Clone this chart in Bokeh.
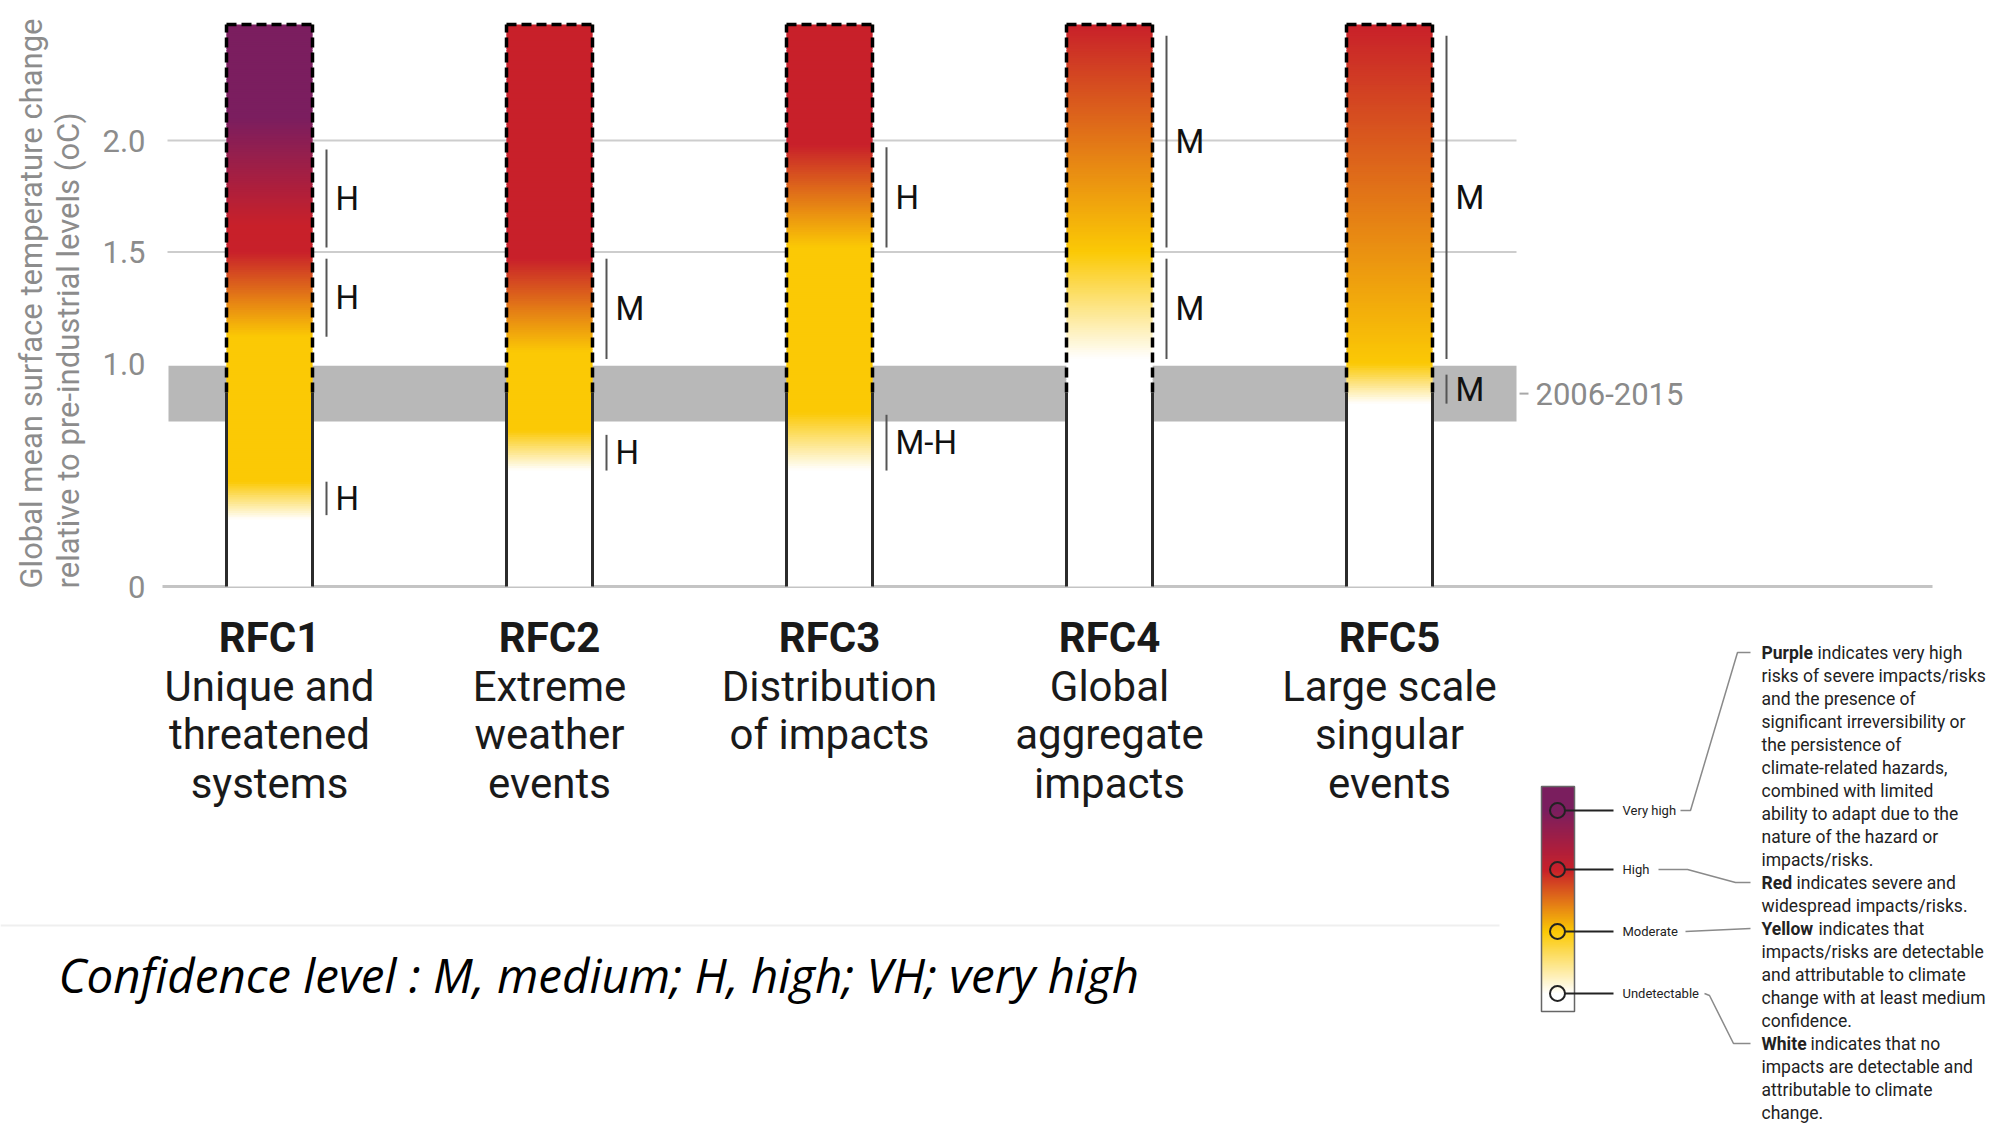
import numpy as np
from bokeh.plotting import figure
from bokeh.models import Range1d, ColumnDataSource
from bokeh.core.properties import value
from bokeh.embed import file_html
from bokeh.resources import INLINE

# ------------------------------------------------------------------ data
categories = ["RFC1", "RFC2", "RFC3", "RFC4", "RFC5"]
category_lines = [
    ["Unique and", "threatened", "systems"],
    ["Extreme", "weather", "events"],
    ["Distribution", "of impacts"],
    ["Global", "aggregate", "impacts"],
    ["Large scale", "singular", "events"],
]
# risk transitions: temperature (°C) and risk level (0 white, 1 yellow, 2 red, 3 purple)
rfc1_temp = [0.0, 0.30, 0.47, 1.12, 1.50, 1.62, 2.10, 2.52]
rfc1_risk = [0, 0, 1, 1, 2, 2, 3, 3]
rfc2_temp = [0.0, 0.52, 0.70, 1.05, 1.47, 2.52]
rfc2_risk = [0, 0, 1, 1, 2, 2]
rfc3_temp = [0.0, 0.52, 0.78, 1.52, 1.98, 2.52]
rfc3_risk = [0, 0, 1, 1, 2, 2]
rfc4_temp = [0.0, 1.02, 1.50, 2.52]
rfc4_risk = [0, 0, 1, 2]
rfc5_temp = [0.0, 0.82, 1.00, 2.52]
rfc5_risk = [0, 0, 1, 2]

bar_top = 2.52
observed_warming = 0.87
band_2006_2015 = [0.74, 0.99]
band_label = "2006-2015"

# confidence brackets
conf_rfc = [0, 0, 0, 1, 1, 2, 2, 3, 3, 4, 4]
conf_low = [1.52, 1.12, 0.32, 1.02, 0.52, 1.52, 0.52, 1.52, 1.02, 1.02, 0.82]
conf_high = [1.96, 1.47, 0.47, 1.47, 0.68, 1.97, 0.77, 2.47, 1.47, 2.47, 0.95]
conf_label = ["H", "H", "H", "M", "H", "H", "M-H", "M", "M", "M", "M"]

y_ticks = [0, 1.0, 1.5, 2.0]
y_tick_labels = ["0", "1.0", "1.5", "2.0"]
grid_levels = [1.5, 2.0]

risk_colors = ["#ffffff", "#fbc905", "#c8202a", "#7b1e5f"]
legend_levels = ["Very high", "High", "Moderate", "Undetectable"]
legend_risk = [3, 2, 1, 0]

footnote = "Confidence level : M, medium; H, high; VH; very high"
y_title_1 = "Global mean surface temperature change"
y_title_2 = "relative to pre-industrial levels (oC)"

desc_lines = [
    ("Purple", "indicates very high"),
    ("", "risks of severe impacts/risks"),
    ("", "and the presence of"),
    ("", "significant irreversibility or"),
    ("", "the persistence of"),
    ("", "climate-related hazards,"),
    ("", "combined with limited"),
    ("", "ability to adapt due to the"),
    ("", "nature of the hazard or"),
    ("", "impacts/risks."),
    ("Red", "indicates severe and"),
    ("", "widespread impacts/risks."),
    ("Yellow", "indicates that"),
    ("", "impacts/risks are detectable"),
    ("", "and attributable to climate"),
    ("", "change with at least medium"),
    ("", "confidence."),
    ("White", "indicates that no"),
    ("", "impacts are detectable and"),
    ("", "attributable to climate"),
    ("", "change."),
]

# ------------------------------------------------------------------ layout (page px)
W, H = 2009, 1129
BAR0_PX, BAR_STEP_PX = 269, 280
ZERO_PX, PX_PER_DEG = 586, 223
BAR_HALF = 43 / BAR_STEP_PX


def xd(px):
    return 1 + (px - BAR0_PX) / BAR_STEP_PX


def yd(px):
    return (ZERO_PX - px) / PX_PER_DEG


def hex2rgb(h):
    return tuple(int(h[i:i + 2], 16) for i in (1, 3, 5))


risk_rgb = [hex2rgb(c) for c in risk_colors]


def level_color(L):
    i = min(int(np.floor(L)), len(risk_rgb) - 2)
    t = L - i
    c = [int(round(a + (b - a) * t)) for a, b in zip(risk_rgb[i], risk_rgb[i + 1])]
    return "#%02x%02x%02x" % tuple(c)


p = figure(width=W, height=H,
           x_range=Range1d(xd(0), xd(W)),
           y_range=Range1d(yd(H), yd(0)),
           x_axis_location=None, y_axis_location=None,
           toolbar_location=None, output_backend="svg",
           min_border_left=0, min_border_right=0,
           min_border_top=0, min_border_bottom=0)
p.outline_line_color = None
p.background_fill_color = "white"
p.border_fill_color = "white"
p.grid.visible = False

GRAY_TXT = "#8c8c8c"

# y tick labels (drawn through the y scale)
p.text(x=[xd(145)] * len(y_ticks), y=y_ticks, text=y_tick_labels,
       text_font=value("Roboto"), text_font_size="31px", text_color=GRAY_TXT,
       text_align="right", text_baseline="middle")

# y-axis title (two rotated lines)
p.text(x=[xd(31), xd(68)], y=[yd(588)] * 2, text=[y_title_1, y_title_2],
       angle=np.pi / 2, text_font=value("Roboto"), text_font_size="31px",
       text_color=GRAY_TXT, text_align="left", text_baseline="middle")

# separator
p.segment(x0=[xd(0)], x1=[xd(1499)], y0=[yd(925)], y1=[yd(925)],
          line_color="#efefef", line_width=2)

# 2006-2015 band
p.quad(left=[xd(168)], right=[xd(1516)], bottom=[band_2006_2015[0]],
       top=[band_2006_2015[1]], fill_color="#b8b8b8", line_color=None)
band_mid = sum(band_2006_2015) / 2
p.segment(x0=[xd(1519)], x1=[xd(1528)], y0=[band_mid], y1=[band_mid],
          line_color="#a8a8a8", line_width=2)
p.text(x=[xd(1535)], y=[band_mid], text=[band_label], text_font=value("Roboto"),
       text_font_size="31px", text_color="#8a8a8a", text_align="left",
       text_baseline="middle")

# grid lines
p.segment(x0=[xd(167)] * len(grid_levels), x1=[xd(1516)] * len(grid_levels),
          y0=grid_levels, y1=grid_levels, line_color="#cdcdcd", line_width=2)
# zero line
p.segment(x0=[xd(162)], x1=[xd(1932)], y0=[0], y1=[0],
          line_color="#c4c4c4", line_width=3)

# bars as gradient slices
stops = [(rfc1_temp, rfc1_risk), (rfc2_temp, rfc2_risk), (rfc3_temp, rfc3_risk),
         (rfc4_temp, rfc4_risk), (rfc5_temp, rfc5_risk)]
bar_x = np.arange(1, len(categories) + 1)
dy = 0.01
edges = np.arange(0, bar_top + 1e-9, dy)
mids = (edges[:-1] + edges[1:]) / 2
L_, R_, B_, T_, C_ = [], [], [], [], []
for i, (tt, rr) in enumerate(stops):
    lev = np.interp(mids, tt, rr)
    for k in range(len(mids)):
        L_.append(bar_x[i] - BAR_HALF)
        R_.append(bar_x[i] + BAR_HALF)
        B_.append(edges[k])
        T_.append(min(edges[k + 1] + dy * 0.6, bar_top))
        C_.append(level_color(lev[k]))
p.quad(left="l", right="r", bottom="b", top="t", fill_color="c", line_color=None,
       source=ColumnDataSource(dict(l=L_, r=R_, b=B_, t=T_, c=C_)))

# outlines: dashed above observed warming, solid below
xl = bar_x - BAR_HALF
xr = bar_x + BAR_HALF
n = len(bar_x)
p.segment(x0=list(xl) + list(xr), x1=list(xl) + list(xr),
          y0=[observed_warming] * (2 * n), y1=[bar_top] * (2 * n),
          line_color="black", line_width=3.5, line_dash="10 5")
p.segment(x0=list(xl), x1=list(xr), y0=[bar_top] * n, y1=[bar_top] * n,
          line_color="black", line_width=3.5, line_dash="10 5")
p.segment(x0=list(xl) + list(xr), x1=list(xl) + list(xr),
          y0=[0] * (2 * n), y1=[observed_warming] * (2 * n),
          line_color="#2b2b2b", line_width=3)

# confidence brackets
bx = np.array([bar_x[r] + BAR_HALF + 14 / BAR_STEP_PX for r in conf_rfc])
p.segment(x0=bx, x1=bx, y0=conf_low, y1=conf_high, line_color="#555555", line_width=2)
p.text(x=bx + 9 / BAR_STEP_PX, y=[(a + b) / 2 for a, b in zip(conf_low, conf_high)],
       text=conf_label, text_font=value("Roboto"), text_font_size="33px",
       text_color="#111111", text_align="left", text_baseline="middle")

# category labels
p.text(x=bar_x, y=[yd(637)] * n, text=categories, text_font=value("Roboto"),
       text_font_style="bold", text_font_size="42px", text_color="#1a1a1a",
       text_align="center", text_baseline="middle")
lx, ly, lt = [], [], []
for i, lines in enumerate(category_lines):
    for j, s in enumerate(lines):
        lx.append(bar_x[i])
        ly.append(yd(637 + 48.5 * (j + 1)))
        lt.append(s)
p.text(x=lx, y=ly, text=lt, text_font=value("Roboto"), text_font_size="42px",
       text_color="#1a1a1a", text_align="center", text_baseline="middle")

# footnote
p.text(x=[xd(58)], y=[yd(974)], text=[footnote], text_font=value("Open Sans"),
       text_font_style="italic", text_font_size="47.5px", text_color="black",
       text_align="left", text_baseline="middle")

# ------------------------------------------------------------------ legend
circle_px = [810, 869, 931, 993]
bar_px = np.arange(786, 1011, 1.0)
lev = np.interp(bar_px, circle_px, legend_risk)
p.quad(left=[xd(1541)] * len(bar_px), right=[xd(1574)] * len(bar_px),
       bottom=[yd(v + 1.6) for v in bar_px], top=[yd(v) for v in bar_px],
       fill_color=[level_color(v) for v in lev], line_color=None)
p.quad(left=[xd(1541)], right=[xd(1574)], bottom=[yd(1011)], top=[yd(786)],
       fill_color=None, line_color="#666666", line_width=1.5)
p.segment(x0=[xd(1564)] * 4, x1=[xd(1613)] * 4,
          y0=[yd(v) for v in circle_px], y1=[yd(v) for v in circle_px],
          line_color="#222222", line_width=2)
p.scatter(x=[xd(1557)] * 4, y=[yd(v) for v in circle_px], size=15,
          fill_color=None, line_color="#222222", line_width=2)
p.text(x=[xd(1622)] * 4, y=[yd(v) for v in circle_px], text=legend_levels,
       text_font=value("Roboto"), text_font_size="13px", text_color="#222222",
       text_align="left", text_baseline="middle")

DESC_Y0, DESC_STEP = 652, 23.0
desc_y = [DESC_Y0 + DESC_STEP * i for i in range(len(desc_lines))]
conn_px = [
    [(1680, 810), (1690, 810), (1737, desc_y[0]), (1750, desc_y[0])],
    [(1658, 869), (1687, 869), (1735, desc_y[10]), (1750, desc_y[10])],
    [(1685, 931), (1750, desc_y[12])],
    [(1704, 993), (1709, 995), (1733, desc_y[17]), (1750, desc_y[17])],
]
p.multi_line(xs=[[xd(a) for a, b in c] for c in conn_px],
             ys=[[yd(b) for a, b in c] for c in conn_px],
             line_color="#8a8a8a", line_width=1.5)

rest_x = {"Purple": 1817, "Red": 1796, "Yellow": 1818, "White": 1810}
bx_, by_, bt_, rx_, ry_, rt_ = [], [], [], [], [], []
for i, (bold, rest) in enumerate(desc_lines):
    yy = yd(desc_y[i])
    if bold:
        bx_.append(xd(1761)); by_.append(yy); bt_.append(bold)
        rx_.append(xd(rest_x[bold])); ry_.append(yy); rt_.append(rest)
    else:
        rx_.append(xd(1761)); ry_.append(yy); rt_.append(rest)
p.text(x=bx_, y=by_, text=bt_, text_font=value("Roboto"), text_font_style="bold",
       text_font_size="17.5px", text_color="#222222", text_align="left",
       text_baseline="middle")
p.text(x=rx_, y=ry_, text=rt_, text_font=value("Roboto"), text_font_size="17.5px",
       text_color="#222222", text_align="left", text_baseline="middle")

open("out.html", "w").write(file_html(p, INLINE))
